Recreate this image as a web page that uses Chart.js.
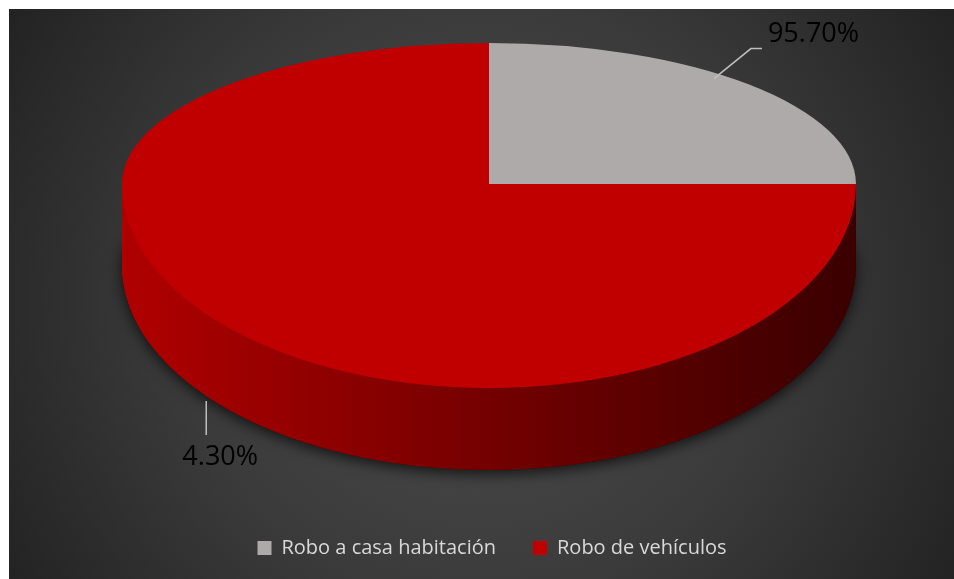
<!DOCTYPE html>
<html>
<head>
<meta charset="utf-8">
<script src="https://cdn.jsdelivr.net/npm/chart.js@4/dist/chart.umd.min.js"></script>
<style>
  html, body { margin: 0; padding: 0; background: #fff; }
  #wrap { width: 954px; height: 579px; }
</style>
</head>
<body>
<div id="wrap"><canvas id="robos-chart"></canvas></div>
<script>
// Data
const categories = ['Robo a casa habitación', 'Robo de vehículos'];
const sliceShares = [25, 75];            // visible size of each slice
const labelTexts = ['95.70%', '4.30%'];  // data labels as printed
const sliceColors = ['#aeaaaa', '#c00000'];

// 3D look: where the flattened pie sits on the page
const CX = 489, CY = 184, RX = 367, RY_TOP = 141, RY_BOT = 204, DEPTH = 82;

function withColor(el, color) {
  const o = Object.create(el);
  o.options = Object.assign({}, el.options, { backgroundColor: color });
  return o;
}

// draws one arc element squashed into the tilted ellipse, shifted down by dy
function drawFlat(ctx, el, dy) {
  const r = el.outerRadius;
  [[0, CY + dy, RY_TOP], [CY + dy, 579, RY_BOT]].forEach(([y0, y1, ry]) => {
    ctx.save();
    ctx.beginPath();
    ctx.rect(0, y0, 954, y1 - y0);
    ctx.clip();
    ctx.translate(CX, CY + dy);
    ctx.scale(RX / r, ry / r);
    ctx.translate(-el.x, -el.y);
    el.draw(ctx);
    ctx.restore();
  });
}

function ellipsePoint(a) {
  const s = Math.sin(a);
  return { x: CX + RX * Math.cos(a), y: CY + (s < 0 ? RY_TOP : RY_BOT) * s };
}

const backgroundPlugin = {
  id: 'background',
  beforeDraw(chart) {
    const ctx = chart.ctx;
    ctx.save();
    ctx.fillStyle = '#ffffff';
    ctx.fillRect(0, 0, chart.width, chart.height);
    const g = ctx.createRadialGradient(480, 300, 0, 480, 300, 560);
    g.addColorStop(0, '#4e4e4e');
    g.addColorStop(0.55, '#3a3a3a');
    g.addColorStop(1, '#222222');
    ctx.fillStyle = g;
    ctx.fillRect(9, 9, chart.width - 9, chart.height - 9);
    ctx.restore();
  }
};

const pie3dPlugin = {
  id: 'pie3d',
  beforeDatasetsDraw(chart) {
    const ctx = chart.ctx;
    const els = chart.getDatasetMeta(0).data;
    const r = els[0].outerRadius;
    const x0 = els[0].x;
    const side = ctx.createLinearGradient(x0 - r, 0, x0 + r, 0);
    side.addColorStop(0, '#b00000');
    side.addColorStop(0.35, '#860000');
    side.addColorStop(0.75, '#560000');
    side.addColorStop(1, '#3a0000');

    // shadow under the pie
    ctx.save();
    ctx.shadowColor = 'rgba(0,0,0,0.7)';
    ctx.shadowBlur = 14;
    ctx.shadowOffsetY = 4;
    els.forEach(el => drawFlat(ctx, withColor(el, '#3a0000'), DEPTH));
    ctx.restore();

    // side wall
    for (let d = DEPTH; d >= 1; d--) {
      els.forEach(el => drawFlat(ctx, withColor(el, side), d));
    }
    // top face
    els.forEach(el => drawFlat(ctx, el, 0));
    return false;
  },
  afterDraw(chart) {
    const ctx = chart.ctx;
    const els = chart.getDatasetMeta(0).data;
    ctx.save();
    ctx.strokeStyle = '#bfbfbf';
    ctx.lineWidth = 1.5;
    ctx.fillStyle = '#000000';
    ctx.font = '27px "Open Sans"';
    ctx.textBaseline = 'alphabetic';

    // gray slice label, up and to the right
    const g = els[0];
    const pg = ellipsePoint(g.startAngle + 0.42 * (g.endAngle - g.startAngle));
    ctx.beginPath();
    ctx.moveTo(pg.x, pg.y + 6);
    ctx.lineTo(pg.x + 37, pg.y - 24);
    ctx.lineTo(pg.x + 48, pg.y - 24);
    ctx.stroke();
    ctx.textAlign = 'left';
    ctx.fillText(labelTexts[0], pg.x + 54, pg.y - 31);

    // red slice label, below the side wall
    const rd = els[1];
    const pr = ellipsePoint(rd.startAngle + 0.52 * (rd.endAngle - rd.startAngle));
    const by = pr.y + DEPTH;
    ctx.beginPath();
    ctx.moveTo(pr.x, by + 5);
    ctx.lineTo(pr.x, by + 39);
    ctx.stroke();
    ctx.textAlign = 'center';
    ctx.fillText(labelTexts[1], pr.x + 14, by + 69);
    ctx.restore();
  }
};

const robosData = {
  labels: categories,
  datasets: [{
    label: 'Robos',
    data: sliceShares,
    backgroundColor: sliceColors,
    borderWidth: 0
  }]
};

const robosConfig = {
  type: 'pie',
  data: robosData,
  options: {
    responsive: true,
    maintainAspectRatio: false,
    animation: false,
    layout: { padding: { left: 30, bottom: 11 } },
    plugins: {
      legend: {
        position: 'bottom',
        labels: {
          color: '#d9d9d9',
          font: { family: '"Open Sans"', size: 20 },
          boxWidth: 14,
          boxHeight: 14,
          padding: 37
        }
      },
      tooltip: { enabled: false }
    }
  },
  plugins: [backgroundPlugin, pie3dPlugin]
};

new Chart(document.getElementById('robos-chart'), robosConfig);
</script>
</body>
</html>
